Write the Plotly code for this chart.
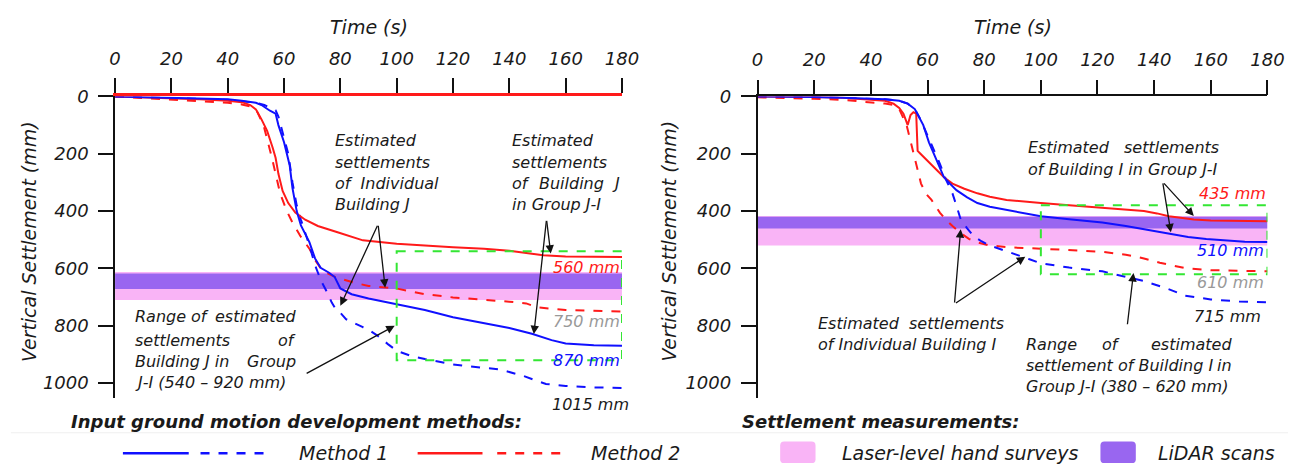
import plotly.graph_objects as go

# ---------------- data ----------------
# Left panel: Building J
J_m1_group_t = [0,10,20,30,40,45,50,52,54,55,56,57,58,59,60,61,62,63,64.5,66,69,71,73,76,78,80,84,90,95,100,110,120,130,140,148,155,160,170,180]
J_m1_group_y = [0,2,5,8,10,15,22,30,45,50,55,60,100,130,160,200,240,320,400,450,508,565,598,615,630,670,690,705,715,725,745,770,790,808,828,850,862,868,870]
J_m1_ind_t = [0,10,20,30,40,45,50,53,55,57,58,60,61.5,63,64.5,66,67.5,69,71,73,75,77,78.6,80,82,85,88,91,94,97,100,105,110,120,130,137,145,153,160,170,180]
J_m1_ind_y = [0,2,5,8,12,16,22,30,40,48,70,150,200,300,380,430,474,520,588,640,678,720,746,755,777,790,805,820,840,865,887,905,916,935,945,953,975,1003,1010,1015,1017]
J_m2_group_t = [0,10,20,30,40,45,48,50,52,54,56,57,58,59.5,61.5,64,67.5,72,79,88,100,109,120,131,140,146,152,160,170,180]
J_m2_group_y = [0,3,6,10,15,20,30,45,80,120,180,214,270,330,372,405,430,452,474,502,514,520,526,531,538,546,554,558,559,560]
J_m2_ind_t = [0,10,20,30,40,45,48,50,52.7,55.7,58.6,61,63,66,69,71,73.4,76,79,85,90,100,110,120,130,140,146,150,160,170,180]
J_m2_ind_y = [0,5,10,15,22,28,35,44,100,214,338,400,440,490,531,570,605,620,633,650,661,670,690,701,708,716,722,736,745,748,750]

# Right panel: Building I
I_m1_group_t = [0,10,20,30,40,45,50,53,55.5,57,58.5,60.5,62.9,64.5,65.8,68,70.2,74,77.6,82,87.9,94,100,110,121.7,130,136.4,141,146.6,152,158.4,165,172,180]
I_m1_group_y = [0,0,2,5,8,10,15,25,44,70,100,160,214,255,282,305,327,352,372,385,395,407,418,428,440,452,463,470,480,490,497,503,507,508]
I_m1_ind_t = [0,10,20,30,40,45,50,53,55.5,57.5,59.9,62,64.4,66.5,68.8,70.5,71.7,74,76.1,79,82,87,92.3,96,100,110,121.7,130,136.4,144,151,160,170,180]
I_m1_ind_y = [0,0,2,5,8,10,15,25,44,80,134,180,236,290,338,390,429,460,486,505,520,537,554,568,582,597,610,630,644,668,695,708,715,718]
I_m2_group_t = [0,10,20,30,40,45,48,50,51.5,53,54,55,56,56.5,57.5,59,61.4,63.5,65.8,68.8,73,77.6,82,87.9,94,100,110,121.7,130,136.4,141,145.2,150,154,160,170,180]
I_m2_group_y = [0,0,2,5,10,15,25,40,60,100,65,55,60,190,200,215,236,260,282,304,322,338,350,361,367,372,380,389,394,400,408,418,424,429,433,435,435]
I_m2_ind_t = [0,10,20,30,40,45,48.2,50,52.6,55.5,57.7,59.5,61.4,64.4,66.5,68.8,71.5,74.6,78,82,90,100,110,121.7,130,136.4,142,151,160,170,180]
I_m2_ind_y = [3,5,8,12,20,25,30,44,100,214,304,340,361,406,430,452,475,497,510,520,527,531,536,542,552,565,580,599,606,609,610]

# measurement bands [low, high] in mm
J_laser = [612, 710]
J_lidar = [618, 672]
I_laser = [417, 520]
I_lidar = [420, 461]
# estimated group ranges: time window and settlement range
J_range_t = [100, 180]
J_range_y = [540, 920]
I_range_t = [100, 180]
I_range_y = [380, 620]

x_ticks = list(range(0, 181, 20))
y_ticks = list(range(0, 1001, 200))

# ---------------- styling ----------------
W, H = 1310, 465
BLUE = "#1010ff"
RED = "#ff1a1a"
GREEN = "#33e633"
PINK = "#f9b4f6"
PURPLE = "#9966f0"
TXT = "#1a1a1a"
FAM = "DejaVu Sans"
NB = "\u00a0"

def P(x):
    return x / W

def Q(y):
    return 1 - y / H

fig = go.Figure()

def add_curve(t, y, color, dash, xa, ya):
    fig.add_trace(go.Scatter(x=t, y=y, mode="lines", xaxis=xa, yaxis=ya,
                             line=dict(color=color, width=2, dash=dash),
                             showlegend=False, hoverinfo="skip"))

add_curve(J_m2_ind_t, J_m2_ind_y, RED, "dash", "x", "y")
add_curve(J_m1_ind_t, J_m1_ind_y, BLUE, "dash", "x", "y")
add_curve(J_m2_group_t, J_m2_group_y, RED, "solid", "x", "y")
add_curve(J_m1_group_t, J_m1_group_y, BLUE, "solid", "x", "y")
add_curve(I_m2_ind_t, I_m2_ind_y, RED, "dash", "x2", "y2")
add_curve(I_m1_ind_t, I_m1_ind_y, BLUE, "dash", "x2", "y2")
add_curve(I_m2_group_t, I_m2_group_y, RED, "solid", "x2", "y2")
add_curve(I_m1_group_t, I_m1_group_y, BLUE, "solid", "x2", "y2")

shapes = []
for xr, yr, laser, lidar, rt, ry in [("x", "y", J_laser, J_lidar, J_range_t, J_range_y),
                                     ("x2", "y2", I_laser, I_lidar, I_range_t, I_range_y)]:
    shapes.append(dict(type="rect", xref=xr, yref=yr, x0=x_ticks[0], x1=x_ticks[-1],
                       y0=laser[0], y1=laser[1], fillcolor=PINK, line_width=0, layer="below"))
    shapes.append(dict(type="rect", xref=xr, yref=yr, x0=x_ticks[0], x1=x_ticks[-1],
                       y0=lidar[0], y1=lidar[1], fillcolor=PURPLE, line_width=0, layer="below"))
    shapes.append(dict(type="rect", xref=xr, yref=yr, x0=rt[0], x1=rt[1],
                       y0=ry[0], y1=ry[1], fillcolor="rgba(0,0,0,0)",
                       line=dict(color=GREEN, width=2, dash="dash"), layer="above"))

# legend samples (paper coords)
def hline(x0, x1, y, color, dash):
    shapes.append(dict(type="line", xref="paper", yref="paper", x0=P(x0), x1=P(x1),
                       y0=Q(y), y1=Q(y), line=dict(color=color, width=2.5, dash=dash)))

hline(119, 186, 453, BLUE, "solid")
hline(198, 266, 453, BLUE, "dash")
hline(419, 485, 453, RED, "solid")
hline(500, 566, 453, RED, "dash")

def rbox_px(x0, x1, y0, y1, color):
    a, b = P(x0), P(x1)
    c, d = Q(y1), Q(y0)
    rx = 4 / W
    ry = 4 / H
    path = (f"M {a+rx},{c} L {b-rx},{c} Q {b},{c} {b},{c+ry} L {b},{d-ry} "
            f"Q {b},{d} {b-rx},{d} L {a+rx},{d} Q {a},{d} {a},{d-ry} "
            f"L {a},{c+ry} Q {a},{c} {a+rx},{c} Z")
    shapes.append(dict(type="path", xref="paper", yref="paper", path=path,
                       fillcolor=color, line_width=0))

rbox_px(788, 824, 441, 463, PINK)
rbox_px(1114, 1150, 441, 463, PURPLE)

# faint separator
shapes.append(dict(type="line", xref="paper", yref="paper", x0=P(5), x1=P(1305),
                   y0=Q(432), y1=Q(432), line=dict(color="#efefef", width=1)))

annotations = []

def txt(x, y, s, anchor="left", color=TXT, size=16, bold=False, angle=0):
    annotations.append(dict(x=P(x), y=Q(y), xref="paper", yref="paper", text=s,
                            showarrow=False, xanchor=anchor, yanchor="middle",
                            textangle=angle,
                            font=dict(family=FAM, size=size, color=color, style="italic",
                                      weight="bold" if bold else "normal")))

def arrow(xr, yr, tail, head):
    annotations.append(dict(x=head[0], y=head[1], ax=tail[0], ay=tail[1],
                            xref=xr, yref=yr, axref=xr, ayref=yr, text="",
                            showarrow=True, arrowhead=2, arrowsize=1.3,
                            arrowwidth=1.3, arrowcolor="#111"))

# axis titles
txt(369, 16, "Time (s)", "center", size=19)
txt(1024.5, 16, "Time (s)", "center", size=19)
txt(24, 236, "Vertical Settlement (mm)", "center", size=19, angle=-90)
txt(675, 236, "Vertical Settlement (mm)", "center", size=19, angle=-90)

# left panel texts
ys4 = [133, 155, 177, 198]
for s, yy in zip(["Estimated", "settlements", "of" + NB + " Individual", "Building J"], ys4):
    txt(333, yy, s)
txt(513, ys4[0], "Estimated")
txt(513, ys4[1], "settlements")
txt(513, ys4[2], "of")
txt(540, ys4[2], "Building")
txt(627, ys4[2], "J", "right")
txt(513, ys4[3], "in Group J-I")

txt(129, 313, "Range")
txt(186, 313, "of")
txt(297, 313, "estimated", "right")
txt(129, 337, "settlements")
txt(297, 337, "of", "right")
txt(129, 359, "Building J in")
txt(297, 359, "Group", "right")
txt(129, 380, "J-I (540 \u2013 920 mm)")

txt(627, 263, "560 mm", "right", RED)
txt(627, 318, "750 mm", "right", "#999999")
txt(627, 358, "870 mm", "right", BLUE)
txt(636, 403, "1015 mm", "right")

# right panel texts
txt(1038, 140, "Estimated")
txt(1237, 140, "settlements", "right")
txt(1038, 162, "of Building I in Group J-I")
txt(824, 320, "Estimated" + NB + NB + "settlements")
txt(824, 342, "of Individual Building I")
txt(1036, 342, "Range")
txt(1125, 342, "of", "center")
txt(1250, 342, "estimated", "right")
txt(1036, 363, "settlement of Building I")
txt(1250, 363, "in", "right")
txt(1036, 385, "Group J-I (380 \u2013 620 mm)")

txt(1285, 187, "435 mm", "right", RED)
txt(1283, 245, "510 mm", "right", BLUE)
txt(1283, 278, "610 mm", "right", "#999999")
txt(1279, 313, "715 mm", "right")

# legend texts
txt(64, 420, "Input ground motion development methods:", size=18, bold=True)
txt(747, 420, "Settlement measurements:", size=18, bold=True)
txt(296, 453, "Method 1", size=19)
txt(593, 453, "Method 2", size=19)
txt(849, 453, "Laser-level hand surveys", size=19)
txt(1171, 453, "LiDAR scans", size=19)

# arrows (data coords)
arrow("x", "y", (93.4, 446), (80, 730))
arrow("x", "y", (93.4, 446), (95.9, 667))
arrow("x", "y", (153.2, 429), (154.7, 548))
arrow("x", "y", (153.2, 429), (148.7, 829))
arrow("x", "y", (67.5, 969), (99.3, 800))
arrow("x2", "y2", (143, 298), (154, 417))
arrow("x2", "y2", (143, 298), (145.9, 474))
arrow("x2", "y2", (69.5, 724), (71.7, 463))
arrow("x2", "y2", (69.5, 724), (94.5, 559))
arrow("x2", "y2", (130.5, 800), (132.7, 616))

tickfont = dict(family=FAM, size=18, color=TXT, style="italic")
ydom = [Q(396.7), Q(87.5)]

def xax(dom, linecolor, lw, anchor):
    return dict(domain=dom, range=[0, 180], side="top", tickvals=x_ticks,
                ticks="outside", ticklen=15, tickwidth=2, tickcolor="#111",
                showline=True, linecolor=linecolor, linewidth=lw,
                showgrid=False, zeroline=False, tickfont=tickfont,
                ticklabelstandoff=6, anchor=anchor, fixedrange=True)

def yax(anchor):
    return dict(domain=ydom, range=[1053, 0], tickvals=y_ticks,
                ticks="outside", ticklen=15, tickwidth=2, tickcolor="#111",
                showline=True, linecolor="#111", linewidth=1.5,
                showgrid=False, zeroline=False, tickfont=tickfont,
                ticklabelstandoff=6, anchor=anchor, fixedrange=True)

fig.update_layout(
    width=W, height=H, margin=dict(l=0, r=0, t=0, b=0),
    paper_bgcolor="white", plot_bgcolor="white",
    xaxis=xax([P(111), P(627)], RED, 3, "y"),
    yaxis=yax("x"),
    xaxis2=xax([P(765), P(1284)], "#111", 1.5, "y2"),
    yaxis2=yax("x2"),
    shapes=shapes, annotations=annotations, showlegend=False,
    font=dict(family=FAM, color=TXT),
)

fig.write_html("out.html")
